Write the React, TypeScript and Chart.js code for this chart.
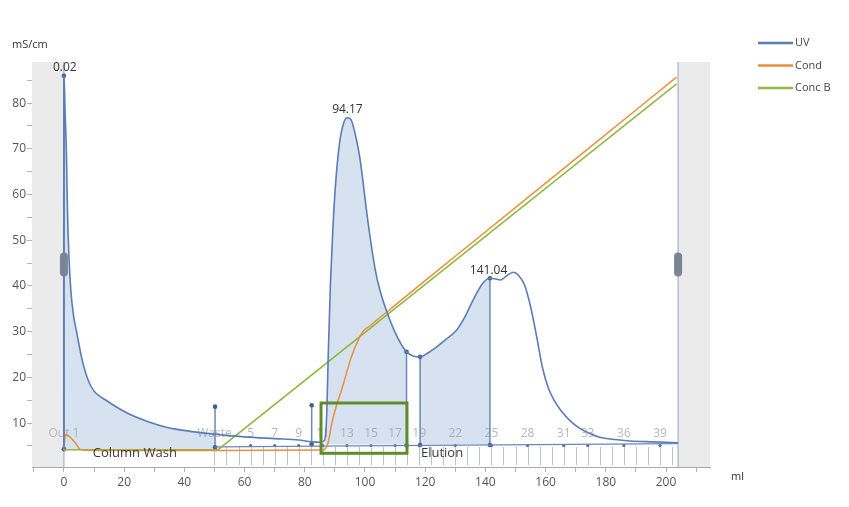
import { useEffect, useRef } from "react";
import { Chart, registerables } from "chart.js";
Chart.register(...registerables);

// ---------- data ----------
const uvX = [0, 0.02, 0.4, 0.8, 1.2, 1.7, 2.3, 3.2, 4.2, 6, 8, 10, 14, 21, 28, 34, 42, 50.2, 60, 70, 78, 82.3, 85, 86.5, 87.3, 87.8, 88.5, 89.3, 90.2, 91.5, 93, 94.17, 95.5, 97, 98.3, 101, 103.4, 105, 108.3, 111, 113.8, 116, 118.3, 121, 123.8, 127, 130.4, 133, 135.9, 139, 141.5, 143, 145, 147, 149.3, 151, 153, 155, 157, 159, 161, 163, 165, 168, 171, 175, 178, 183, 188, 196, 204];
const uvY = [4.3, 86, 78, 70, 56, 46, 39, 33.5, 30, 24, 19.5, 17, 15, 12.2, 10.3, 9.1, 8.2, 7.6, 7.0, 6.6, 6.3, 5.9, 5.8, 6.2, 12, 25, 40, 52, 62, 71, 75.8, 76.8, 76.2, 72.5, 68, 54, 43.6, 39, 32.5, 28.5, 25.6, 24.7, 24.5, 25.4, 26.7, 28.4, 30.3, 33, 36.9, 40.5, 41.7, 41.6, 41.3, 42.2, 43, 42.3, 40.2, 35.5, 29, 22, 17.5, 14.8, 12.8, 10.6, 9, 7.6, 6.9, 6.4, 6.1, 5.9, 5.7];

const condX = [0, 0.5, 2, 4, 5.5, 10, 50, 86, 87.7, 89, 90.5, 92.2, 95.5, 97.5, 99.4, 101.5, 104, 108, 115, 130, 160, 190, 203.5];
const condY = [4.0, 7.5, 7.0, 5.5, 4.2, 4.0, 4.0, 4.1, 5.6, 10, 13.8, 17.2, 24.5, 27.8, 30.1, 31.2, 32.6, 34.7, 38.5, 46.5, 62.5, 78.5, 85.7];

const concBX = [0, 51.2, 203.5];
const concBY = [4.2, 4.2, 84.2];

// integration ranges: start, end, baseline
const fillStart = [0, 86.5, 118.3];
const fillEnd = [50.2, 113.8, 141.5];
const fillBase = [4.3, 5.3, 5.3];

// vertical peak / event markers
const markX = [0, 50.2, 82.3, 113.8, 118.3, 141.5];
const markBase = [4.3, 4.7, 5.4, 5.1, 5.2, 5.2];
const markTop = [86, 13.6, 13.9, 25.6, 24.5, 41.7];

// integration baseline
const baseLineX = [50.2, 204];
const baseLineY = [4.8, 5.5];

// peak labels
const peakLabels = ["0.02", "94.17", "141.04"];
const peakX = [0.3, 94.17, 141.04];
const peakY = [86, 76.8, 41.7];

// fractions
const fractionX = [50, 54, 58, 62, 66, 70, 74, 78, 82, 86, 90, 94, 98, 102, 106, 110, 114, 118, 122, 126, 130, 134, 138, 142, 146, 150, 154, 158, 162, 166, 170, 174, 178, 182, 186, 190, 194, 198, 202, 204];
const fracLabels = ["Out 1", "Waste", "5", "7", "9", "11", "13", "15", "17", "19", "22", "25", "28", "31", "33", "36", "39"];
const fracLabelX = [0, 50, 62, 70, 78, 86, 94, 102, 110, 118, 130, 142, 154, 166, 174, 186, 198];

// phase labels
const phaseLabels = ["Column Wash", "Elution"];
const phaseX = [9.6, 118.6];

// highlight box
const boxX = [85.4, 113.95];
const boxY = [3.4, 14.4];

// run limits
const runStart = 0;
const runEnd = 204;

// axes
const xTickValues = [-10, 0, 10, 20, 30, 40, 50, 60, 70, 80, 90, 100, 110, 120, 130, 140, 150, 160, 170, 180, 190, 200, 210];
const xLabelValues = [0, 20, 40, 60, 80, 100, 120, 140, 160, 180, 200];
const yTickValues = [5, 10, 15, 20, 25, 30, 35, 40, 45, 50, 55, 60, 65, 70, 75, 80, 85];
const yLabelValues = [10, 20, 30, 40, 50, 60, 70, 80];

const seriesNames = ["UV", "Cond", "Conc B"];
const UV_C = "#5b7db5";
const COND_C = "#ea8f3c";
const CONCB_C = "#8fb83e";
const seriesColors = [UV_C, COND_C, CONCB_C];

const FONT = "'Open Sans', 'Noto Sans', sans-serif";

export default function App() {
  const ref = useRef<HTMLCanvasElement>(null);
  useEffect(() => {
    const canvas = ref.current!;
    const pts = (xs: number[], ys: number[]) => xs.map((x, i) => ({ x, y: ys[i] }));
    const uv = pts(uvX, uvY);

    const fillSets = fillStart.map((a, i) => ({
      label: "fill" + i,
      data: uv.filter((p) => p.x >= a && p.x <= fillEnd[i]),
      borderWidth: 0,
      pointRadius: 0,
      fill: { value: fillBase[i] },
      backgroundColor: "rgba(110,150,205,0.28)",
      cubicInterpolationMode: "monotone" as const,
      order: 10,
    }));

    const markSets = markX.map((x, i) => ({
      label: "mark" + i,
      data: [
        { x, y: markBase[i] },
        { x, y: markTop[i] },
      ],
      borderColor: "#6b88b8",
      borderWidth: 1.5,
      pointRadius: 2.3,
      pointBackgroundColor: "#3f5f95",
      pointBorderWidth: 0,
      fill: false,
      order: 5,
    }));

    const decor = {
      id: "decor",
      beforeDatasetsDraw(chart: any) {
        const { ctx, chartArea: ca, scales } = chart;
        const xs = scales.x, ys = scales.y;
        ctx.save();
        ctx.fillStyle = "#ebebeb";
        const x0 = xs.getPixelForValue(runStart);
        const x1 = xs.getPixelForValue(runEnd);
        ctx.fillRect(ca.left, ca.top, x0 - ca.left, ca.bottom - ca.top);
        ctx.fillRect(x1, ca.top, ca.right - x1, ca.bottom - ca.top);
        ctx.strokeStyle = "#a9b0bd";
        ctx.lineWidth = 1.2;
        ctx.beginPath();
        ctx.moveTo(x0, ca.top);
        ctx.lineTo(x0, ca.bottom);
        ctx.moveTo(x1, ca.top);
        ctx.lineTo(x1, ca.bottom);
        ctx.stroke();

        // fraction ticks
        ctx.strokeStyle = "#b9c1cf";
        ctx.lineWidth = 1;
        const yt = ys.getPixelForValue(4.8);
        const yb = ys.getPixelForValue(0.8);
        ctx.beginPath();
        fractionX.forEach((fx) => {
          const px = Math.round(xs.getPixelForValue(fx)) + 0.5;
          ctx.moveTo(px, yt);
          ctx.lineTo(px, yb);
        });
        ctx.stroke();

        // fraction labels
        ctx.font = `12px ${FONT}`;
        ctx.fillStyle = "#b8b8b8";
        ctx.textAlign = "center";
        ctx.textBaseline = "middle";
        const yl = ys.getPixelForValue(7.8);
        fracLabels.forEach((t, i) => {
          ctx.fillText(t, xs.getPixelForValue(fracLabelX[i]), yl);
        });
        // fraction dots
        ctx.fillStyle = "#4b6a9e";
        fracLabelX.slice(2).forEach((fx) => {
          ctx.beginPath();
          ctx.arc(xs.getPixelForValue(fx), ys.getPixelForValue(5.1), 1.6, 0, Math.PI * 2);
          ctx.fill();
        });
        ctx.restore();
      },
      afterDatasetsDraw(chart: any) {
        const { ctx, chartArea: ca, scales } = chart;
        const xs = scales.x, ys = scales.y;
        ctx.save();
        // highlight box
        ctx.strokeStyle = "#5e8c2c";
        ctx.lineWidth = 3;
        const bx0 = xs.getPixelForValue(boxX[0]);
        const bx1 = xs.getPixelForValue(boxX[1]);
        const by0 = ys.getPixelForValue(boxY[1]);
        const by1 = ys.getPixelForValue(boxY[0]);
        ctx.strokeRect(bx0, by0, bx1 - bx0, by1 - by0);

        // phase labels
        ctx.font = `13px ${FONT}`;
        ctx.fillStyle = "#3a3a3a";
        ctx.textAlign = "left";
        ctx.textBaseline = "middle";
        phaseLabels.forEach((t, i) => {
          ctx.fillText(t, xs.getPixelForValue(phaseX[i]), ys.getPixelForValue(3.3));
        });

        // peak labels
        ctx.font = `12px ${FONT}`;
        ctx.fillStyle = "#333";
        ctx.textAlign = "center";
        ctx.textBaseline = "bottom";
        peakLabels.forEach((t, i) => {
          ctx.fillText(t, xs.getPixelForValue(peakX[i]), ys.getPixelForValue(peakY[i]) - 2);
        });

        // handles
        ctx.fillStyle = "#7b8494";
        const hy = (ca.top + ca.bottom) / 2;
        [runStart, runEnd].forEach((v) => {
          const px = xs.getPixelForValue(v);
          ctx.beginPath();
          (ctx as any).roundRect(px - 4, hy - 12, 8, 24, 4);
          ctx.fill();
        });

        // unit labels
        ctx.font = `11px ${FONT}`;
        ctx.fillStyle = "#333";
        ctx.textAlign = "left";
        ctx.textBaseline = "middle";
        ctx.fillText("mS/cm", 12, 45);
        ctx.fillText("ml", 731, 477);

        // legend
        seriesNames.forEach((n, i) => {
          const y = 43 + i * 22.5;
          ctx.strokeStyle = seriesColors[i];
          ctx.lineWidth = 2.5;
          ctx.beginPath();
          ctx.moveTo(758, y);
          ctx.lineTo(793, y);
          ctx.stroke();
          ctx.fillStyle = "#444";
          ctx.fillText(n, 795, y);
        });
        ctx.restore();
      },
    };

    const chart = new Chart(canvas, {
      type: "line",
      data: {
        datasets: [
          {
            label: seriesNames[0],
            data: uv,
            borderColor: UV_C,
            borderWidth: 1.6,
            pointRadius: 0,
            cubicInterpolationMode: "monotone",
            fill: false,
            order: 1,
          },
          {
            label: seriesNames[1],
            data: pts(condX, condY),
            borderColor: COND_C,
            borderWidth: 1.5,
            pointRadius: 0,
            cubicInterpolationMode: "monotone",
            fill: false,
            order: 2,
          },
          {
            label: seriesNames[2],
            data: pts(concBX, concBY),
            borderColor: CONCB_C,
            borderWidth: 1.5,
            pointRadius: 0,
            tension: 0,
            fill: false,
            order: 3,
          },
          {
            label: "baseline",
            data: pts(baseLineX, baseLineY),
            borderColor: "#6b88b8",
            borderWidth: 1.2,
            pointRadius: 0,
            fill: false,
            order: 4,
          },
          ...markSets,
          ...fillSets,
        ] as any,
      },
      options: {
        animation: false,
        responsive: false,
        maintainAspectRatio: false,
        layout: { padding: { top: 62, right: 139, left: 0, bottom: 0 } },
        plugins: { legend: { display: false }, tooltip: { enabled: false } },
        scales: {
          x: {
            type: "linear",
            min: -10.6,
            max: 214.6,
            afterBuildTicks: (s: any) => {
              s.ticks = xTickValues.map((v) => ({ value: v }));
            },
            afterFit: (s: any) => {
              s.height = 40;
            },
            ticks: {
              autoSkip: false,
              maxRotation: 0,
              padding: 3,
              color: "#555",
              font: { family: FONT, size: 12 },
              callback: (v: any) => (xLabelValues.includes(Number(v)) ? String(v) : ""),
            },
            grid: { drawOnChartArea: false, tickLength: 5, color: "#b5b5b5" },
            border: { display: true, color: "#a8a8a8" },
          },
          y: {
            type: "linear",
            min: 0.4,
            max: 89,
            afterBuildTicks: (s: any) => {
              s.ticks = yTickValues.map((v) => ({ value: v }));
            },
            afterFit: (s: any) => {
              s.width = 32;
            },
            ticks: {
              autoSkip: false,
              padding: 1,
              color: "#555",
              font: { family: FONT, size: 12 },
              callback: (v: any) => (yLabelValues.includes(Number(v)) ? String(v) : ""),
            },
            grid: { drawOnChartArea: false, tickLength: 5, color: "#b5b5b5" },
            border: { display: true, color: "#a8a8a8" },
          },
        },
      },
      plugins: [decor],
    });
    return () => chart.destroy();
  }, []);

  return (
    <div style={{ position: "fixed", left: 0, top: 0, width: 849, height: 507, background: "#fff" }}>
      <canvas ref={ref} width={849} height={507} style={{ width: 849, height: 507 }} />
    </div>
  );
}
